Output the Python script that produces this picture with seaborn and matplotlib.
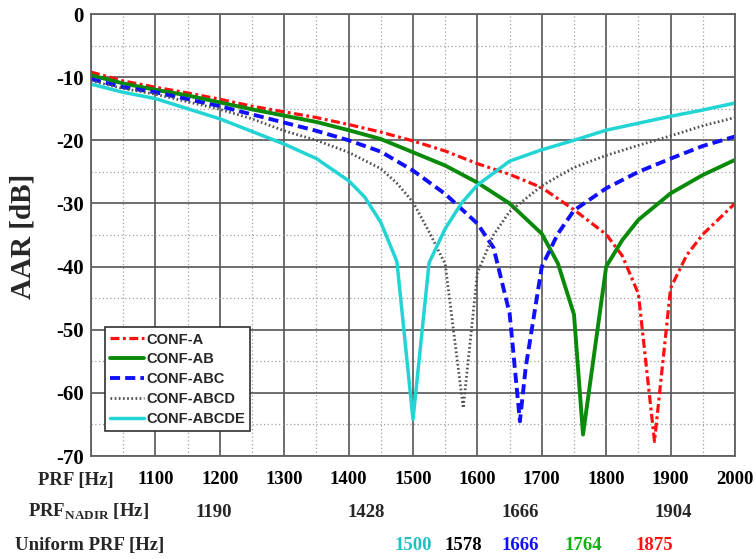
import matplotlib
matplotlib.use("Agg")
import matplotlib.pyplot as plt
import matplotlib.transforms as mtransforms
from matplotlib.ticker import MultipleLocator
import seaborn as sns
import pandas as pd

# ---------------- data ----------------
f_a = [1000, 1050, 1100, 1150, 1200, 1250, 1300, 1350, 1400, 1450, 1500, 1550, 1600, 1650, 1700,
       1750, 1800, 1825, 1850, 1875, 1900, 1925, 1950, 2000]
aar_a = [-9.2, -10.6, -11.6, -12.5, -13.5, -14.6, -15.5, -16.4, -17.5, -18.7, -20.1, -21.7, -23.7, -25.4, -27.5,
         -31.0, -34.9, -38.3, -44.3, -67.7, -43.4, -38.2, -34.9, -30.0]

f_ab = [1000, 1050, 1100, 1150, 1200, 1250, 1300, 1350, 1400, 1450, 1500, 1550, 1600, 1650, 1700,
        1725, 1750, 1764, 1800, 1825, 1850, 1900, 1950, 2000]
aar_ab = [-9.7, -11.0, -12.0, -12.9, -14.0, -15.1, -16.1, -17.1, -18.4, -19.8, -21.9, -24.0, -26.7, -30.0, -34.8,
          -39.5, -47.6, -66.6, -40.0, -35.8, -32.6, -28.4, -25.5, -23.1]

f_abc = [1000, 1050, 1100, 1150, 1200, 1250, 1300, 1350, 1400, 1450, 1500, 1550, 1600, 1625, 1650,
         1666, 1675, 1700, 1725, 1750, 1800, 1850, 1900, 1950, 2000]
aar_abc = [-10.3, -11.6, -12.4, -13.5, -14.6, -15.9, -17.2, -18.5, -20.0, -21.8, -24.8, -28.5, -33.2, -37.0, -47.4,
           -64.5, -56.0, -40.0, -34.8, -31.1, -27.6, -25.0, -22.9, -20.9, -19.4]

f_abcd = [1000, 1050, 1100, 1150, 1200, 1250, 1300, 1350, 1400, 1450, 1475, 1500, 1525, 1550, 1578,
          1600, 1625, 1650, 1700, 1750, 1800, 1850, 1900, 1950, 2000]
aar_abcd = [-10.6, -11.8, -12.7, -13.9, -15.1, -16.6, -18.5, -20.0, -21.9, -24.5, -26.8, -29.8, -34.5, -39.6, -62.4,
            -41.0, -35.0, -31.3, -27.2, -24.3, -22.4, -20.8, -19.3, -17.7, -16.4]

f_abcde = [1000, 1050, 1100, 1150, 1200, 1250, 1300, 1350, 1400, 1425, 1450, 1475, 1500, 1525, 1550,
           1575, 1600, 1650, 1700, 1750, 1800, 1850, 1900, 1950, 2000]
aar_abcde = [-11.1, -12.4, -13.4, -15.0, -16.6, -18.6, -20.6, -22.9, -26.4, -29.0, -33.0, -39.2, -64.2, -39.4, -34.0,
             -30.0, -27.1, -23.3, -21.5, -20.0, -18.4, -17.3, -16.2, -15.2, -14.1]

series_names = ["CONF-A", "CONF-AB", "CONF-ABC", "CONF-ABCD", "CONF-ABCDE"]
prf_ticks = [1100, 1200, 1300, 1400, 1500, 1600, 1700, 1800, 1900, 2000]
prf_nadir = [1190, 1428, 1666, 1904]
uniform_prf = [1500, 1578, 1666, 1764, 1875]
y_ticks = [0, -10, -20, -30, -40, -50, -60, -70]

# ---------------- style ----------------
sns.set_theme(style="white")
plt.rcParams["font.family"] = ["Liberation Serif", "DejaVu Serif"]
plt.rcParams["mathtext.fontset"] = "custom"
plt.rcParams["mathtext.rm"] = "Liberation Serif:bold"
plt.rcParams["mathtext.bf"] = "Liberation Serif:bold"

W, H = 755, 559
fig = plt.figure(figsize=(W / 100, H / 100), dpi=100)
L, R, T, B = 91, 735, 14, 456
ax = fig.add_axes([L / W, 1 - B / H, (R - L) / W, (B - T) / H])

styles = {
    "CONF-A": dict(color="#ff1010", lw=2.3, ls=(0, (2.8, 1.1, 0.9, 1.1))),
    "CONF-AB": dict(color="#0a8a0a", lw=2.8, ls="-"),
    "CONF-ABC": dict(color="#1010ff", lw=2.8, ls=(0, (2.6, 1.3))),
    "CONF-ABCD": dict(color="#505050", lw=2.0, ls=(0, (0.6, 0.9))),
    "CONF-ABCDE": dict(color="#22d4d4", lw=2.5, ls="-"),
}
xs = [f_a, f_ab, f_abc, f_abcd, f_abcde]
ys = [aar_a, aar_ab, aar_abc, aar_abcd, aar_abcde]

for name, x, y in zip(series_names, xs, ys):
    df = pd.DataFrame({"PRF": x, "AAR": y})
    st = styles[name]
    sns.lineplot(data=df, x="PRF", y="AAR", ax=ax, estimator=None, sort=False,
                 color=st["color"], linewidth=st["lw"], linestyle=st["ls"], label=name)

ax.set_xlim(1000, 2000)
ax.set_ylim(-70, 0)
ax.xaxis.set_minor_locator(MultipleLocator(50))
ax.yaxis.set_minor_locator(MultipleLocator(5))
ax.set_xticks([1000] + prf_ticks)
ax.set_xticklabels([""] + [str(v) for v in prf_ticks])
ax.set_yticks(y_ticks)
ax.set_yticklabels([str(v) for v in y_ticks])
ax.grid(True, which="major", color="#555555", lw=1.2)
ax.grid(True, which="minor", color="#a0a0a0", lw=0.9, ls=(0, (1, 2)))
ax.set_axisbelow(True)
for sp in ax.spines.values():
    sp.set_color("#606060")
    sp.set_linewidth(1.3)
ax.tick_params(axis="both", which="both", length=0)
ax.tick_params(axis="x", pad=11)
ax.tick_params(axis="y", pad=5)
for lab in ax.get_xticklabels():
    lab.set_fontsize(13.5)
    lab.set_fontweight("bold")
    lab.set_color("black")
for lab in ax.get_yticklabels():
    lab.set_fontsize(15)
    lab.set_fontweight("bold")
    lab.set_color("black")
ax.set_xlabel("")
ax.set_ylabel("")

fig.text(23 / W, 1 - 236 / H, "AAR [dB]", rotation=90, ha="center", va="center",
         fontsize=21, fontweight="bold")

# multi-row x axis annotation
trans = mtransforms.blended_transform_factory(ax.transData, fig.transFigure)
fs = 13.5
fig.text(76 / W, 1 - 485 / H, "PRF [Hz]", ha="center", va="baseline", fontsize=fs, fontweight="bold")
fig.text(88 / W, 1 - 517 / H, r"PRF$_{\mathrm{NADIR}}$ [Hz]", ha="center", va="baseline",
         fontsize=fs, fontweight="bold")
fig.text(90 / W, 1 - 550 / H, "Uniform PRF [Hz]", ha="center", va="baseline", fontsize=fs, fontweight="bold")
for v in prf_nadir:
    ax.text(v, 1 - 517 / H, str(v), transform=trans, ha="center", va="baseline",
            fontsize=fs, fontweight="bold", clip_on=False)
uni_colors = ["#20c0c0", "black", "#1010ff", "#10b010", "#ff1010"]
for v, c in zip(uniform_prf, uni_colors):
    ax.text(v, 1 - 550 / H, str(v), transform=trans, ha="center", va="baseline",
            fontsize=fs, fontweight="bold", color=c, clip_on=False)

leg = ax.legend(loc="lower left", bbox_to_anchor=((105 - L) / (R - L), (B - 431) / (B - T)),
                borderaxespad=0, frameon=True, fancybox=False, handlelength=2.3,
                handletextpad=0.2, labelspacing=0.4, borderpad=0.35,
                prop={"family": "Liberation Sans", "weight": "bold", "size": 10.5})
leg.get_frame().set_edgecolor("#303030")
leg.get_frame().set_linewidth(1.2)
leg.get_frame().set_facecolor("white")
leg.get_frame().set_alpha(1)

fig.savefig("out.png", dpi=100)
